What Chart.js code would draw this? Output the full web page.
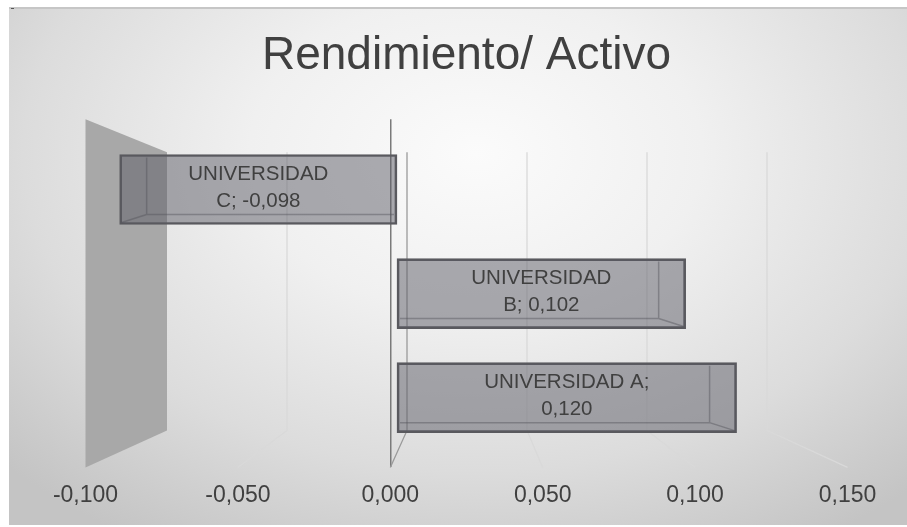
<!DOCTYPE html>
<html><head><meta charset="utf-8">
<script src="https://cdn.jsdelivr.net/npm/chart.js@4.4.1/dist/chart.umd.min.js"></script>
<style>
html,body{margin:0;padding:0;background:#fff;width:907px;height:527px;overflow:hidden;}
#frame{position:absolute;left:9px;top:7px;width:898px;height:518px;box-sizing:border-box;border-top:2px solid #c6c6c6;
background:radial-gradient(ellipse 72% 88% at 52% 28%, #fbfbfb 0%, #f0f0f0 35%, #dcdcdc 70%, #c4c4c4 100%);}
#dot{position:absolute;left:11px;top:8px;width:3px;height:1px;background:#555;}
#c{position:absolute;left:0;top:0;}
</style></head><body>
<div id="frame"></div><div id="dot"></div>
<canvas id="c" width="907" height="527"></canvas>
<script>
const categories = ['UNIVERSIDAD C', 'UNIVERSIDAD B', 'UNIVERSIDAD A'];
const values = [-0.098, 0.102, 0.120];
const tickValues = [-0.100, -0.050, 0.000, 0.050, 0.100, 0.150];
const titleText = 'Rendimiento/ Activo';

const FONT = '"Liberation Sans", Arial, sans-serif';
Chart.defaults.font.family = FONT;

const fmt = v => (v < -1e-9 ? '-' : '') + Math.abs(v).toFixed(3).replace('.', ',');

const scene3d = {
  id: 'scene3d',
  beforeDatasetsDraw(chart) {
    const ctx = chart.ctx, ca = chart.chartArea;
    const xs = chart.scales.x, xg = chart.scales.xg;
    const backTop = ca.top + 33, backBottom = ca.bottom - 37;
    const wallFront = xs.getPixelForValue(tickValues[0]);
    const wallBack = xg.getPixelForValue(tickValues[0]);
    ctx.save();
    ctx.fillStyle = '#a8a8a8';
    ctx.beginPath();
    ctx.moveTo(wallFront, ca.top);
    ctx.lineTo(wallBack, backTop);
    ctx.lineTo(wallBack, backBottom);
    ctx.lineTo(wallFront, ca.bottom);
    ctx.closePath();
    ctx.fill();
    tickValues.slice(1).forEach(v => {
      const bx = xg.getPixelForValue(v), fx = xs.getPixelForValue(v);
      ctx.strokeStyle = Math.abs(v) < 1e-9 ? '#9a9a9a' : '#d9d9d9';
      ctx.lineWidth = 1.3;
      ctx.beginPath();
      ctx.moveTo(bx, backTop);
      ctx.lineTo(bx, backBottom);
      ctx.lineTo(fx, ca.bottom);
      ctx.stroke();
    });
    ctx.restore();
  },
  afterDatasetsDraw(chart) {
    const ctx = chart.ctx;
    const meta = chart.getDatasetMeta(0);
    ctx.save();
    meta.data.forEach((el, i) => {
      const dir = values[i] >= 0 ? 1 : -1;
      const top = el.y - el.height / 2, bot = el.y + el.height / 2;
      ctx.strokeStyle = 'rgba(85,85,92,0.45)';
      ctx.lineWidth = 1.5;
      ctx.beginPath();
      ctx.moveTo(el.x - dir * 27, top + 3);
      ctx.lineTo(el.x - dir * 27, bot - 10);
      ctx.lineTo(el.base + dir * 3, bot - 10);
      ctx.moveTo(el.x - dir * 27, bot - 10);
      ctx.lineTo(el.x - dir * 2, bot - 2);
      ctx.stroke();
      ctx.font = '20.5px ' + FONT;
      ctx.fillStyle = '#404040';
      ctx.textAlign = 'center';
      ctx.textBaseline = 'middle';
      const words = (categories[i] + '; ' + fmt(values[i])).split(' ');
      const maxW = Math.abs(el.x - el.base) * 0.5;
      const lines = [];
      let cur = '';
      words.forEach(w => {
        const t = cur ? cur + ' ' + w : w;
        if (cur && ctx.measureText(t).width > maxW) { lines.push(cur); cur = w; }
        else cur = t;
      });
      if (cur) lines.push(cur);
      const lh = 27;
      const cx = (el.x + el.base) / 2;
      lines.forEach((ln, k) => {
        ctx.fillText(ln, cx, el.y + (k - (lines.length - 1) / 2) * lh - 2);
      });
    });
    ctx.restore();
  }
};

new Chart(document.getElementById('c'), {
  type: 'bar',
  data: {
    datasets: [{
      data: values.map((v, i) => ({ x: v, y: i })),
      xAxisID: 'xb',
      yAxisID: 'y',
      backgroundColor: 'rgba(92,92,102,0.5)',
      borderColor: '#59595e',
      borderWidth: 2,
      borderSkipped: false,
      barThickness: 70
    }]
  },
  options: {
    indexAxis: 'y',
    responsive: false,
    animation: false,
    layout: { padding: { left: 85.5, right: 59.5, top: 0, bottom: 4 } },
    plugins: {
      legend: { display: false },
      tooltip: { enabled: false },
      title: {
        display: true, text: titleText, color: '#404040',
        font: { size: 46, weight: 'normal', family: FONT },
        padding: { top: 29, bottom: 35 }
      }
    },
    scales: {
      x: {
        type: 'linear', position: 'bottom', min: tickValues[0], max: tickValues[tickValues.length - 1],
        ticks: { stepSize: 0.05, callback: v => fmt(v), color: '#404040', font: { size: 23 }, padding: 14 },
        grid: { drawTicks: false, lineWidth: 1.5, color: c => Math.abs(c.tick.value) < 1e-9 ? '#7a7a7a' : 'rgba(0,0,0,0)' },
        border: { display: false }
      },
      xb: { type: 'linear', display: false, min: -0.11007, max: 0.15919 },
      xg: { type: 'linear', display: false, min: -0.13396, max: 0.18354 },
      y: { type: 'linear', display: false, offset: false, reverse: true, min: -0.675, max: 2.67 }
    }
  },
  plugins: [scene3d]
});
</script>
</body></html>
